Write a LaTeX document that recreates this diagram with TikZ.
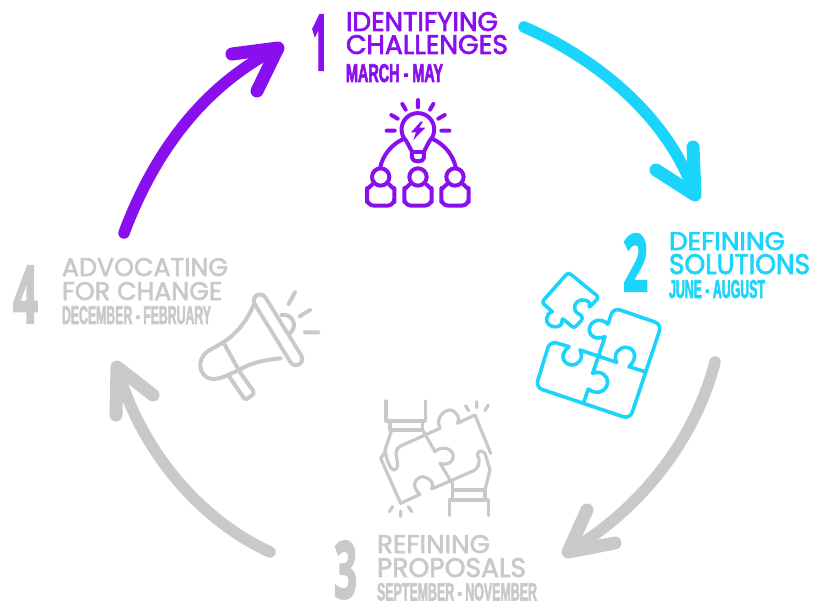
\documentclass[tikz,border=0pt]{standalone}
\usepackage{fontspec}
\usepackage{graphicx}
\setmainfont{Liberation Sans}
\newfontfamily\headf[FakeBold=2.5]{Poppins}
\newfontfamily\condf[FakeStretch=0.6,FakeBold=2.2]{Liberation Sans Bold}
\newfontfamily\numf[FakeBold=3]{Open Sans Bold}
\definecolor{cpurple}{HTML}{8A0FEF}
\definecolor{ccyan}{HTML}{1AD4FB}
\definecolor{cgray}{HTML}{C8CAC9}
\newcommand\fitb[3]{\resizebox{#1pt}{#2pt}{#3}}
\tikzset{
  lbl/.style={inner sep=0pt,outer sep=0pt,anchor=north west},
  bigarrow/.style={line width=11.5pt,line cap=round,line join=round},
  barb/.style={line width=13pt,line cap=round,line join=round},
  icon/.style={line width=#1,line cap=round,line join=round},
  icon/.default=4pt
}
\begin{document}
\begin{tikzpicture}[x=1pt,y=-1pt]
\useasboundingbox (0,0) rectangle (819,601);
\fill[white] (0,0) rectangle (819,601);
% arrows
\coordinate (a1s) at (124,233); \coordinate (a1e) at (278,48);
\draw[bigarrow,cpurple] (a1s) .. controls (155,150) and (205,85) .. (a1e);
\draw[barb,cpurple] (257,91) -- (a1e) -- (232,54);
\coordinate (a2s) at (524,27); \coordinate (a2e) at (695,195);
\draw[bigarrow,ccyan] (a2s) .. controls (600,60) and (670,120) .. (a2e);
\draw[barb,ccyan] (656,170) -- (a2e) -- (693,147);
\coordinate (a3s) at (715,362); \coordinate (a3e) at (568,552);
\draw[bigarrow,cgray] (a3s) .. controls (695,440) and (640,510) .. (a3e);
\draw[barb,cgray] (587,510) -- (a3e) -- (615,543);
\coordinate (a4s) at (270,552); \coordinate (a4e) at (117,367);
\draw[bigarrow,cgray] (a4s) .. controls (200,520) and (140,450) .. (a4e);
\draw[barb,cgray] (116,415) -- (a4e) -- (153,395);
% numbers and text
\node[lbl] (n1) at (311,15) {\fitb{17}{55}{\color{cpurple}\numf 1}};
\node[lbl] (t1a) at (346,12) {\fitb{152}{19}{\color{cpurple}\headf IDENTIFYING}};
\node[lbl] (t1b) at (346,35) {\fitb{162}{19}{\color{cpurple}\headf CHALLENGES}};
\node[lbl] (t1c) at (346,64) {\fitb{97}{18}{\color{cpurple}\condf MARCH - MAY}};
\node[lbl] (n2) at (623,234) {\fitb{25}{57}{\color{ccyan}\numf 2}};
\node[lbl] (t2a) at (669,232) {\fitb{116}{18}{\color{ccyan}\headf DEFINING}};
\node[lbl] (t2b) at (669,254) {\fitb{141}{20}{\color{ccyan}\headf SOLUTIONS}};
\node[lbl] (t2c) at (669,280) {\fitb{96}{18}{\color{ccyan}\condf JUNE - AUGUST}};
\node[lbl] (n3) at (334,541) {\fitb{23}{57}{\color{cgray}\numf 3}};
\node[lbl] (t3a) at (377,535) {\fitb{113}{18}{\color{cgray}\headf REFINING}};
\node[lbl] (t3b) at (377,558) {\fitb{149}{19}{\color{cgray}\headf PROPOSALS}};
\node[lbl] (t3c) at (377,583) {\fitb{160}{17.5}{\color{cgray}\condf SEPTEMBER - NOVEMBER}};
\node[lbl] (n4) at (13,266) {\fitb{25}{57}{\color{cgray}\numf 4}};
\node[lbl] (t4a) at (62,258) {\fitb{166}{18}{\color{cgray}\headf ADVOCATING}};
\node[lbl] (t4b) at (62,282) {\fitb{160}{18}{\color{cgray}\headf FOR CHANGE}};
\node[lbl] (t4c) at (62,306) {\fitb{149}{18}{\color{cgray}\condf DECEMBER - FEBRUARY}};
% bulb icon
\begin{scope}[shift={(350,90)},x=0.3333pt,y=-0.3333pt,icon=4pt,cpurple]
\draw (169,153) arc[start angle=135,end angle=405,radius=49] -- (222,185) -- (222,203) .. controls (222,218) and (186,218) .. (186,203) -- (186,185) -- cycle;
\draw (186,187) -- (222,187);
\fill (212,95) -- (183,127) -- (198,127) -- (190,150) -- (226,113) -- (208,113) -- (219,95) -- cycle;
\draw (204,30) -- (204,52) (157,42) -- (167,59) (250,42) -- (240,59) (124,75) -- (143,86) (284,75) -- (265,86) (110,122) -- (134,122) (274,122) -- (298,122);
\draw (90,235) .. controls (98,195) and (125,163) .. (160,147);
\draw (318,235) .. controls (310,195) and (283,163) .. (248,147);
\foreach \c in {92,204,315}{
  \draw (\c,261) circle[radius=26];
  \draw[rounded corners=7pt] (\c-25,283) .. controls (\c-35,292) and (\c-41,300) .. (\c-41,315) -- (\c-41,347) -- (\c+41,347) -- (\c+41,315) .. controls (\c+41,300) and (\c+35,292) .. (\c+25,283);
}
\end{scope}
% puzzle icon
\begin{scope}[shift={(525,265)},x=0.3333pt,y=-0.3333pt,icon=3.6pt,ccyan]
\draw (130,22) [rounded corners=3pt] -- (222,97) -- (190,130) [sharp corners] .. controls (200,105) and (160,95) .. (150,120) .. controls (145,135) and (155,145) .. (167,150) [rounded corners=3pt] -- (175,160) -- (147,190) -- (110,158) [sharp corners] .. controls (115,195) and (60,190) .. (65,160) .. controls (66,150) and (72,143) .. (82,140) [rounded corners=3pt] -- (50,112) -- cycle;
\draw[rounded corners=7pt] (132,245) -- (75,228) -- (32,367) -- (315,462) -- (410,178) -- (265,128) -- (250,175);
\draw (250,178) .. controls (220,150) and (190,175) .. (193,198) .. controls (195,215) and (215,225) .. (240,215) -- (203,325) .. controls (230,315) and (250,335) .. (248,352) .. controls (245,380) and (215,392) .. (190,372) -- (175,415);
\draw (132,245) .. controls (105,265) and (110,295) .. (138,300) .. controls (160,302) and (178,280) .. (165,255) -- (275,292) .. controls (262,265) and (285,245) .. (305,247) .. controls (330,250) and (340,280) .. (312,305) -- (360,320);
\end{scope}
% handshake puzzle
\begin{scope}[shift={(370,395)},x=0.3333pt,y=-0.3333pt,icon=3.2pt,cgray]
\draw (48,18) -- (48,78) -- (166,78) -- (166,18);
\draw (60,78) -- (60,105) -- (158,105) -- (158,78);
\draw (65,105) -- (45,165) .. controls (48,185) and (55,215) .. (70,225) .. controls (85,225) and (85,205) .. (80,190) .. controls (75,170) and (80,160) .. (92,153) -- (165,120) -- (210,100) .. controls (195,65) and (225,45) .. (240,45) .. controls (265,50) and (272,75) .. (262,85) -- (315,60) -- (362,175);
\draw (158,105) -- (195,170) .. controls (215,150) and (250,160) .. (250,185) .. controls (245,210) and (225,210) .. (210,205) -- (245,262);
\draw (45,172) -- (32,190) -- (92,325) -- (150,298) .. controls (115,265) and (145,245) .. (160,245) .. controls (180,250) and (195,265) .. (185,282) -- (300,232) .. controls (325,225) and (335,200) .. (322,180) .. controls (325,165) and (335,165) .. (345,175) -- (360,225) -- (345,285);
\draw (248,262) -- (248,285);
\draw (248,285) -- (345,285) -- (345,315);
\draw (248,285) -- (248,315);
\draw (238,362) -- (238,315) -- (355,315) -- (355,362);
\draw (287,32) -- (296,47) (320,20) -- (320,38) (355,30) -- (345,47);
\draw (58,350) -- (68,335) (92,348) -- (92,365) (125,350) -- (115,335);
\end{scope}
% megaphone
\begin{scope}[shift={(190,285)},x=0.3333pt,y=-0.3333pt,icon=4pt,cgray]
\draw (190,62) .. controls (170,110) and (135,150) .. (100,172);
\draw (272,220) .. controls (220,225) and (180,235) .. (147,255);
\draw (100,172) -- (148,258);
\draw (100,172) -- (65,192) .. controls (25,210) and (20,255) .. (50,277) .. controls (75,290) and (105,275) .. (147,255);
\draw (118,275) -- (162,340) -- (170,342) -- (190,328) -- (190,318) -- (150,262);
\draw (275,90) .. controls (305,85) and (325,120) .. (302,143);
\draw (315,22) -- (296,57) (360,75) -- (329,94) (385,142) -- (345,142);
\draw[line width=16.5pt,line cap=round] (210,47) -- (318,222);
\draw[line width=8.5pt,line cap=round,white] (210,47) -- (318,222);
\end{scope}
\end{tikzpicture}
\end{document}
